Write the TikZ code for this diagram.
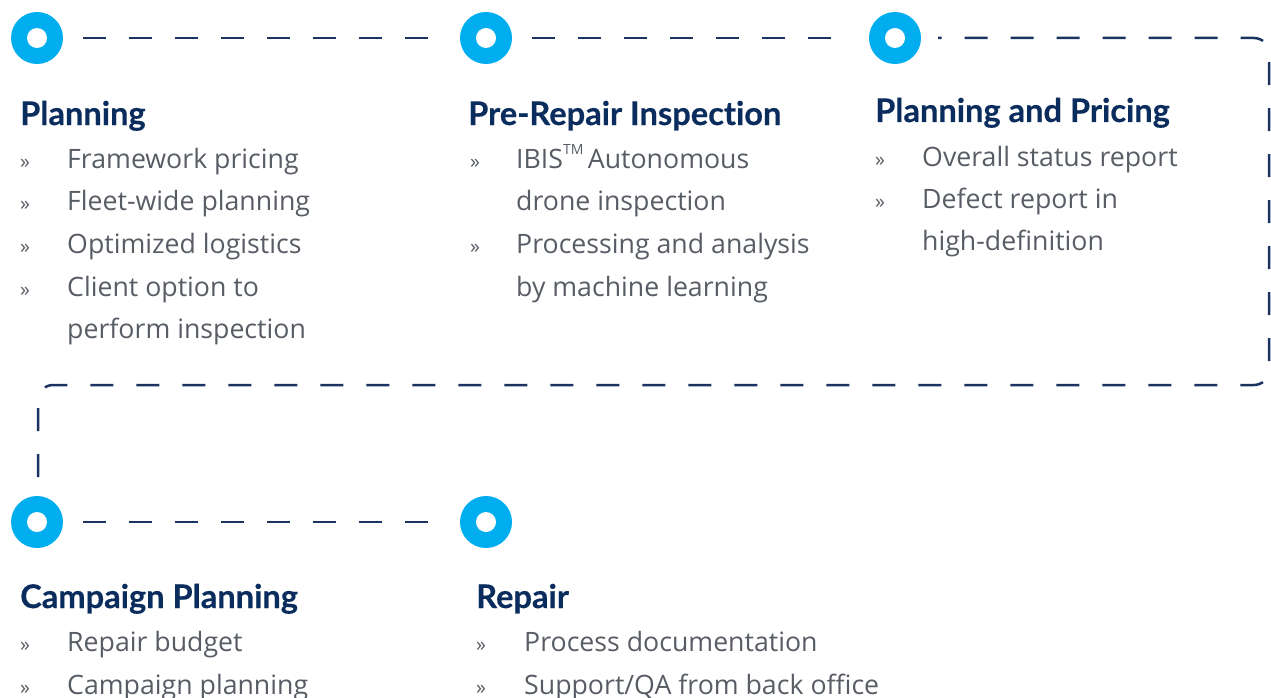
\documentclass[tikz,border=0pt]{standalone}
\usepackage{fontspec}
\setmainfont{Open Sans}
\newfontfamily\headfont[BoldFeatures={FakeBold=0.4}]{Lato}
\definecolor{navy}{HTML}{1B3360}
\definecolor{headblue}{HTML}{0B2D5E}
\definecolor{dotcyan}{HTML}{00AEEF}
\definecolor{bodygray}{HTML}{585D65}
\tikzset{
  stepdot/.style={circle,fill=dotcyan,minimum size=52pt,inner sep=0pt,
    path picture={\fill[white] (path picture bounding box.center) circle (10pt);}},
  trail/.style={draw=navy,line width=2.5pt,dash pattern=on 23pt off 23pt},
  heading/.style={anchor=base west,inner sep=0pt,text=headblue,
    font=\headfont\bfseries\fontsize{32.6}{38}\selectfont},
  item/.style={anchor=base west,inner sep=0pt,text=bodygray,
    font=\fontsize{26.7}{32}\selectfont},
  bulletmark/.style={anchor=base west,inner sep=0pt,text=bodygray,
    font=\fontsize{20}{24}\selectfont}
}
\begin{document}
\begin{tikzpicture}[x=1pt,y=-1pt]
\useasboundingbox (0,0) rectangle (1271,698);

% milestone dots
\node[stepdot] (d1) at (37,38) {};
\node[stepdot] (d2) at (486,38) {};
\node[stepdot] (d3) at (895,38) {};
\node[stepdot] (d4) at (37,522) {};
\node[stepdot] (d5) at (486,522) {};

% dashed trail between the dots
\coordinate (t1a) at (83,38);   \coordinate (t1b) at (440,38);
\coordinate (t2a) at (532,38);  \coordinate (t2b) at (850,38);
\coordinate (t3a) at (938,38);
\coordinate (c1) at (1269,38);  \coordinate (c2) at (1269,385);
\coordinate (c3) at (38,385);   \coordinate (t3b) at (38,477);
\coordinate (t4a) at (83,522);  \coordinate (t4b) at (440,522);
\draw[trail] (t1a) -- (t1b);
\draw[trail] (t2a) -- (t2b);
% the long return loop, laid out from its lower end
\draw[trail,rounded corners=15pt] (t3b) -- (c3) -- (c2) -- (c1) -- (t3a);
\draw[trail] (t4a) -- (t4b);

% column 1
\node[heading] (h1) at (20,125) {Planning};
\node[bulletmark] (b11) at (20,168) {»};
\node[item] (i11) at (67,168) {Framework pricing};
\node[bulletmark] (b12) at (20,210.5) {»};
\node[item] (i12) at (67,210.5) {Fleet-wide planning};
\node[bulletmark] (b13) at (20,253) {»};
\node[item] (i13) at (67,253) {Optimized logistics};
\node[bulletmark] (b14) at (20,296) {»};
\node[item] (i14) at (67,296) {Client option to};
\node[item] (i15) at (67,338.5) {perform inspection};

% column 2 (kern keeps the t and i apart in the heading font)
\node[heading] (h2) at (468,125) {Pre-Repair Inspect\kern0pt ion};
\node[bulletmark] (b21) at (470,168) {»};
\node[item] (i21) at (516,168) {IBIS\raisebox{0.5em}{\fontsize{14}{14}\selectfont TM}\,Autonomous};
\node[item] (i22) at (516,210.5) {drone inspection};
\node[bulletmark] (b23) at (470,253) {»};
\node[item] (i23) at (516,253) {Processing and analysis};
\node[item] (i24) at (516,296) {by machine learning};

% column 3
\node[heading] (h3) at (875,122) {Planning and Pricing};
\node[bulletmark] (b31) at (875,166) {»};
\node[item] (i31) at (922,166) {Overall status report};
\node[bulletmark] (b32) at (875,208) {»};
\node[item] (i32) at (922,208) {Defect report in};
\node[item] (i33) at (922,250.5) {high-definition};

% lower row
\node[heading] (h4) at (20,608) {Campaign Planning};
\node[bulletmark] (b41) at (20,651) {»};
\node[item] (i41) at (67,651) {Repair budget};
\node[bulletmark] (b42) at (20,694) {»};
\node[item] (i42) at (67,694) {Campaign planning};

\node[heading] (h5) at (476,608) {Repair};
\node[bulletmark] (b51) at (476,651) {»};
\node[item] (i51) at (524,651) {Process documentation};
\node[bulletmark] (b52) at (476,694) {»};
\node[item] (i52) at (524,694) {Support/QA from back office};
\end{tikzpicture}
\end{document}
